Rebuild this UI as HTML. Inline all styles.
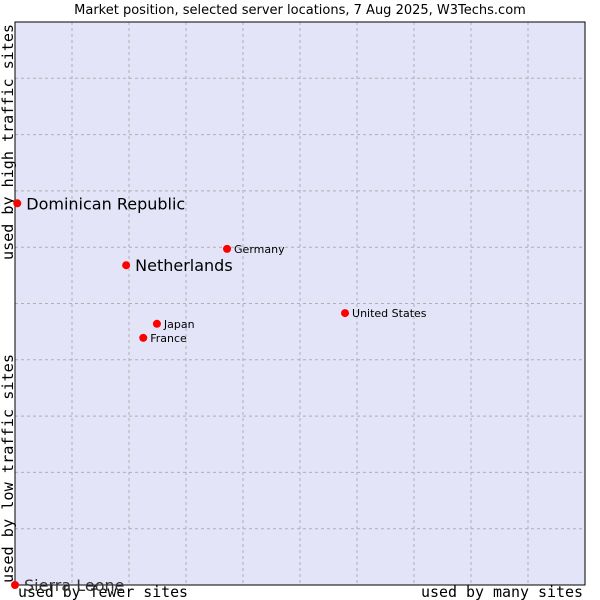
<!DOCTYPE html>
<html><head><meta charset="utf-8"><style>
body{margin:0;width:600px;height:600px;background:#fff;overflow:hidden}
svg{display:block}
text{font-family:"DejaVu Sans","Liberation Sans",sans-serif}
.mono{font-family:"DejaVu Sans Mono","Liberation Mono",monospace}
</style></head><body>
<svg id="chart" width="600" height="600">
<text x="300" y="14" text-anchor="middle" font-size="13" fill="#000">Market position, selected server locations, 7 Aug 2025, W3Techs.com</text>
<rect x="15" y="22" width="570" height="563" fill="#e3e4f8"/>
<g id="grid"></g>
<rect x="15" y="22" width="570" height="563" fill="none" stroke="#000" stroke-width="1"/>
<text class="mono" transform="translate(13,260) rotate(-90)" font-size="15" textLength="236" lengthAdjust="spacingAndGlyphs">used by high traffic sites</text>
<text class="mono" transform="translate(13,583) rotate(-90)" font-size="15" textLength="229" lengthAdjust="spacingAndGlyphs">used by low traffic sites</text>
<text class="mono" x="18" y="597" font-size="15" textLength="170" lengthAdjust="spacingAndGlyphs">used by fewer sites</text>
<text class="mono" x="421" y="597" font-size="15" textLength="162" lengthAdjust="spacingAndGlyphs">used by many sites</text>
<g id="points"></g>
</svg>
<script>
const names=["Dominican Republic","Netherlands","Germany","United States","Japan","France","Sierra Leone"];
const xVals=[0.04,1.95,3.72,5.79,2.49,2.25,0];
const yVals=[6.78,5.68,5.97,4.83,4.64,4.39,0];
const big=[true,true,false,false,false,false,true];
const L=15,R=585,T=22,B=585;
const sx=v=>L+(R-L)*v/10, sy=v=>B-(B-T)*v/10;
const NS="http://www.w3.org/2000/svg";
const g=document.getElementById('grid');
for(let i=1;i<10;i++){
  const v=document.createElementNS(NS,'line');
  v.setAttribute('x1',sx(i));v.setAttribute('x2',sx(i));v.setAttribute('y1',T);v.setAttribute('y2',B);
  v.setAttribute('stroke','#b0b0b0');v.setAttribute('stroke-dasharray','3,3');
  
  
  g.appendChild(v);
  const h=document.createElementNS(NS,'line');
  h.setAttribute('y1',sy(i));h.setAttribute('y2',sy(i));h.setAttribute('x1',L);h.setAttribute('x2',R);
  h.setAttribute('stroke','#b0b0b0');h.setAttribute('stroke-dasharray','3,3');
  
  
  g.appendChild(h);
}
const p=document.getElementById('points');
names.forEach((n,i)=>{
  const cx=sx(xVals[i]),cy=sy(yVals[i]);
  const c=document.createElementNS(NS,'circle');
  c.setAttribute('cx',cx);c.setAttribute('cy',cy);c.setAttribute('r',4);c.setAttribute('fill','#f00');
  
  
  p.appendChild(c);
  const t=document.createElementNS(NS,'text');
  t.setAttribute('x',cx+(big[i]?9:7));t.setAttribute('y',cy+(big[i]?6:4));
  t.setAttribute('font-size',big[i]?16:11);
  if(i===6){t.setAttribute('fill','#333');}
  t.textContent=n;
  
  
  p.appendChild(t);
});
</script>
</body></html>
